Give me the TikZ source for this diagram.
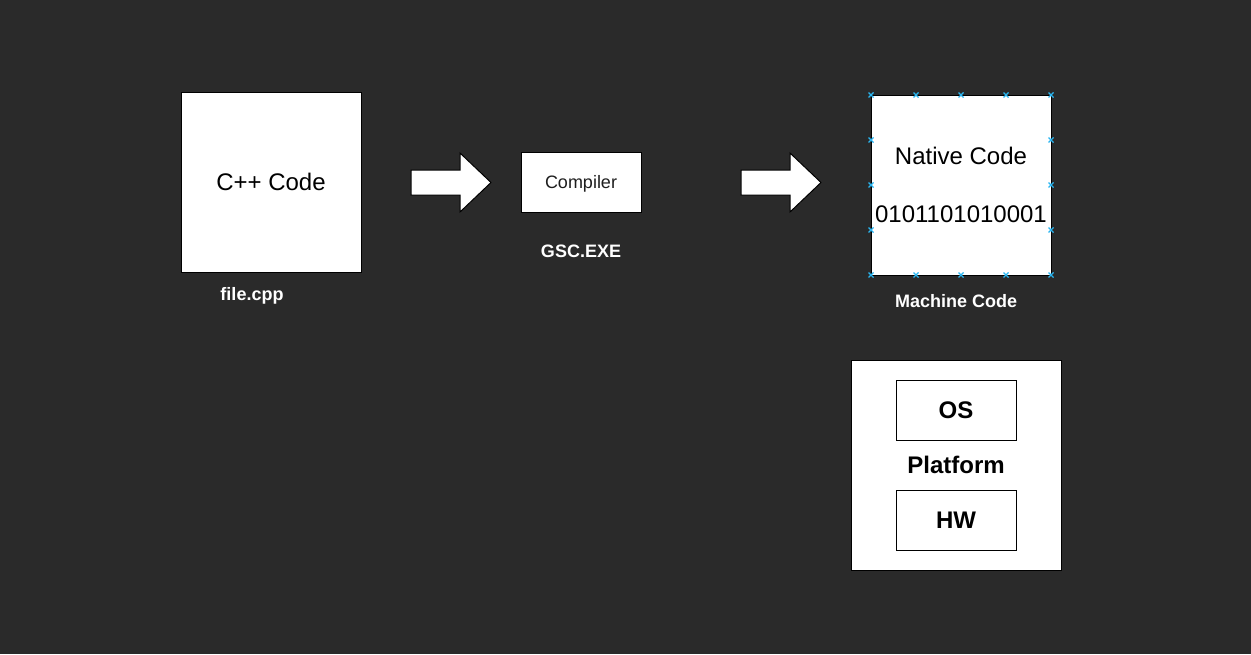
\documentclass[tikz,border=0pt]{standalone}
\usepackage{fontspec}
\setmainfont{Liberation Sans}
\begin{document}
\begin{tikzpicture}[x=0.75pt,y=-0.75pt,
  box/.style={draw=black,fill=white,line width=0.75pt,inner sep=0pt},
  big/.style={font=\fontsize{18}{21}\selectfont,text=black},
  lbl/.style={font=\bfseries\fontsize{13.5}{16}\selectfont,text=white},
  bigb/.style={font=\bfseries\fontsize{18}{21}\selectfont,text=black},
  fatarrow/.style={draw=black,fill=white,line width=0.75pt},
  handle/.style={draw={rgb,255:red,41;green,182;blue,242},line width=0.9pt}]
\fill[fill={rgb,255:red,42;green,42;blue,42}] (0,0) rectangle (1251,654);
\useasboundingbox (0,0) rectangle (1251,654);
% C++ code
\node[box,minimum width=135pt,minimum height=135pt] (cpp) at (271,182) {};
\node[big] (cpptxt) at (271,182) {C++ Code};
\node[lbl] (file) at (252,295.5) {file.cpp};
% arrow 1
\draw[fatarrow] (411,170) -- (460,170) -- (460,153) -- (491,182.5) -- (460,212) -- (460,195) -- (411,195) -- cycle;
% compiler
\node[box,minimum width=90pt,minimum height=45pt] (comp) at (581,182) {};
\node[font=\fontsize{13.5}{16}\selectfont,text={rgb,255:red,30;green,30;blue,30}] (comptxt) at (581,183.5) {Compiler};
\node[lbl] (gsc) at (581,251.5) {GSC.EXE};
% arrow 2
\draw[fatarrow] (741,170) -- (790,170) -- (790,153) -- (821,182.5) -- (790,212) -- (790,195) -- (741,195) -- cycle;
% native code
\node[box,minimum width=135pt,minimum height=135pt] (nat) at (961,185) {};
\node[big] (nattxt) at (961,156) {Native Code};
\node[big] (bin) at (961,214) {0101101010001};
\node[lbl] (mc) at (956,301.5) {Machine Code};
% handles
\foreach \p in {871,916,961,1006,1051}{
  \foreach \q in {95,275}{
    \draw[handle] (\p-2.5,\q-2.5) -- (\p+2.5,\q+2.5) (\p-2.5,\q+2.5) -- (\p+2.5,\q-2.5);
  }
}
\foreach \q in {140,185,230}{
  \foreach \p in {871,1051}{
    \draw[handle] (\p-2.5,\q-2.5) -- (\p+2.5,\q+2.5) (\p-2.5,\q+2.5) -- (\p+2.5,\q-2.5);
  }
}
% platform
\node[box,minimum width=157.5pt,minimum height=157.5pt] (plat) at (956,465) {};
\node[box,minimum width=90pt,minimum height=45pt] (os) at (956,410) {};
\node[bigb] (ostxt) at (956,410) {OS};
\node[bigb] (plattxt) at (956,465) {Platform};
\node[box,minimum width=90pt,minimum height=45pt] (hw) at (956,520) {};
\node[bigb] (hwtxt) at (956,520) {HW};
\end{tikzpicture}
\end{document}
